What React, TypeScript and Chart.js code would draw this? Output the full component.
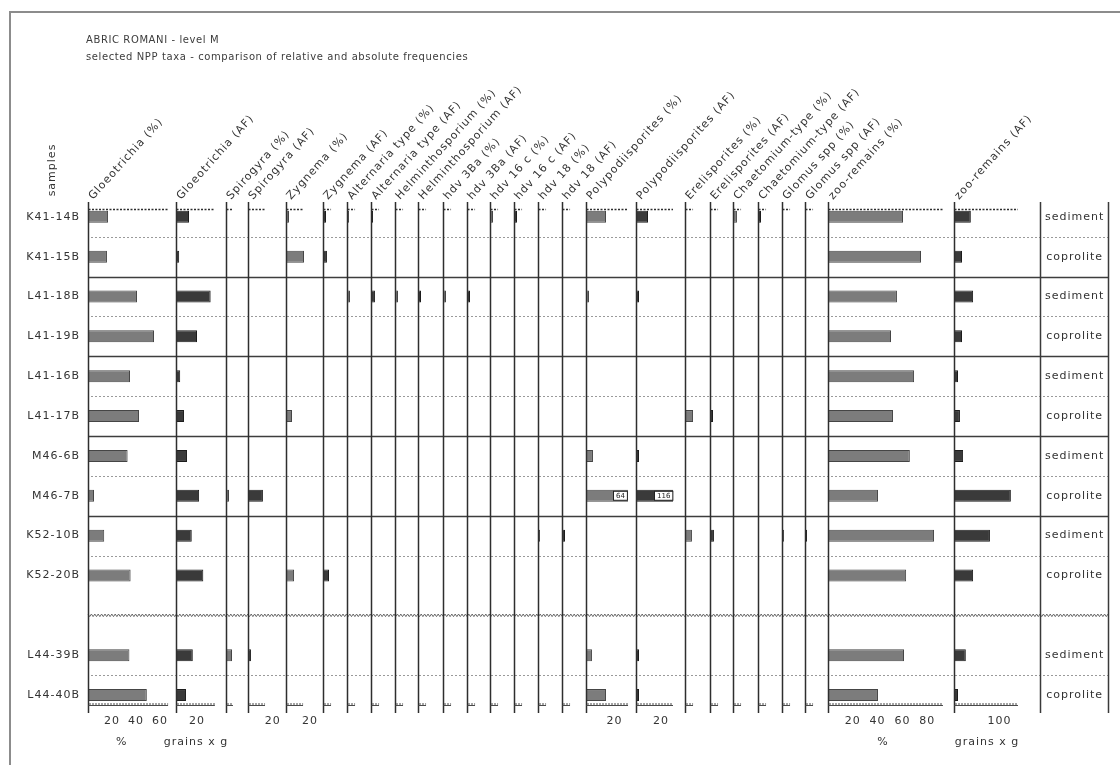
import { useEffect, useRef } from 'react';
import { Chart, registerables } from 'chart.js';

Chart.register(...registerables);

// Samples from top to bottom; the empty entry is the spacer row before L44.
const samples = ['K41-14B', 'K41-15B', 'L41-18B', 'L41-19B', 'L41-16B', 'L41-17B', 'M46-6B', 'M46-7B', 'K52-10B', 'K52-20B', '', 'L44-39B', 'L44-40B'];
const sampleTypes = ['sediment', 'coprolite', 'sediment', 'coprolite', 'sediment', 'coprolite', 'sediment', 'coprolite', 'sediment', 'coprolite', '', 'sediment', 'coprolite'];

// Relative (%) and absolute (AF, grains x g) frequencies per sample.
const gloeotrichiaPct = [16.7, 15.8, 40.8, 55, 35, 42.5, 33, 5, 13.5, 35.5, null, 34.5, 49];
const gloeotrichiaAF = [12.4, 3, 33, 20, 4, 7.6, 10.5, 22, 15, 26, null, 16, 9.5];
const spirogyraPct = [0, 0, 0, 0, 0, 0, 0, 2.5, 0, 0, null, 5, 0];
const spirogyraAF = [0, 0, 0, 0, 0, 0, 0, 12.1, 0, 0, null, 2.4, 0];
const zygnemaPct = [2.5, 15, 0, 0, 0, 5, 0, 0, 0, 6.7, null, 0, 0];
const zygnemaAF = [2.5, 3.3, 0, 0, 0, 0, 0, 0, 0, 5, null, 0, 0];
const alternariaPct = [1.7, 0, 2.5, 0, 0, 0, 0, 0, 0, 0, null, 0, 0];
const alternariaAF = [1.7, 0, 3.3, 0, 0, 0, 0, 0, 0, 0, null, 0, 0];
const helminthosporiumPct = [0, 0, 2.5, 0, 0, 0, 0, 0, 0, 0, null, 0, 0];
const helminthosporiumAF = [0, 0, 2.5, 0, 0, 0, 0, 0, 0, 0, null, 0, 0];
const hdv3BaPct = [0, 0, 2.5, 0, 0, 0, 0, 0, 0, 0, null, 0, 0];
const hdv3BaAF = [0, 0, 2.5, 0, 0, 0, 0, 0, 0, 0, null, 0, 0];
const hdv16cPct = [2.5, 0, 0, 0, 0, 0, 0, 0, 0, 0, null, 0, 0];
const hdv16cAF = [2.5, 0, 0, 0, 0, 0, 0, 0, 0, 0, null, 0, 0];
const hdv18Pct = [0, 0, 0, 0, 0, 0, 0, 0, 1.7, 0, null, 0, 0];
const hdv18AF = [0, 0, 0, 0, 0, 0, 0, 0, 2.5, 0, null, 0, 0];
const polypodiisporitesPct = [14.1, 0, 2.1, 0, 0, 0, 4.9, 64, 0, 0, null, 4.2, 14.1];
const polypodiisporitesAF = [9.6, 0, 2.4, 0, 0, 0, 2.4, 116, 0, 0, null, 2.4, 2.4];
const erelisporitesPct = [0, 0, 0, 0, 0, 6.7, 0, 0, 5.8, 0, null, 0, 0];
const erelisporitesAF = [0, 0, 0, 0, 0, 2.5, 0, 0, 3.3, 0, null, 0, 0];
const chaetomiumPct = [3.3, 0, 0, 0, 0, 0, 0, 0, 0, 0, null, 0, 0];
const chaetomiumAF = [2.5, 0, 0, 0, 0, 0, 0, 0, 0, 0, null, 0, 0];
const glomusPct = [0, 0, 0, 0, 0, 0, 0, 0, 1.7, 0, null, 0, 0];
const glomusAF = [0, 0, 0, 0, 0, 0, 0, 0, 1.7, 0, null, 0, 0];
const zooRemainsPct = [60.5, 75, 55.6, 50.8, 69.4, 52.4, 66, 40.3, 85.5, 63, null, 61.3, 40.3];
const zooRemainsAF = [37, 17.6, 42, 17.6, 8.8, 13, 20, 125, 79, 42, null, 26, 8.8];

const FONT = '"DejaVu Sans", sans-serif';
const INK = '#333';
const PCT_FILL = '#7c7c7c';
const PCT_EDGE = '#454545';
const AF_FILL = '#3a3a3a';
const AF_EDGE = '#1c1c1c';

const ROW_MIN = -0.196;
const ROW_MAX = 12.25;

type Panel = {
  label: string;
  values: (number | null)[];
  kind: 'pct' | 'af';
  weight: number; // share of the plot width
  max: number; // axis maximum
  axisMax: number; // where the drawn axis line stops
  ticks: number[];
};

const narrow = (label: string, values: (number | null)[], kind: 'pct' | 'af', weight: number): Panel => ({
  label, values, kind, weight, max: weight / 1.2, axisMax: 6.7, ticks: [],
});

const panels: Panel[] = [
  { label: 'Gloeotrichia (%)', values: gloeotrichiaPct, kind: 'pct', weight: 88, max: 73.3, axisMax: 66.7, ticks: [20, 40, 60] },
  { label: 'Gloeotrichia (AF)', values: gloeotrichiaAF, kind: 'af', weight: 50, max: 47.6, axisMax: 37, ticks: [20] },
  { label: 'Spirogyra (%)', values: spirogyraPct, kind: 'pct', weight: 22, max: 18.3, axisMax: 5.8, ticks: [] },
  { label: 'Spirogyra (AF)', values: spirogyraAF, kind: 'af', weight: 38, max: 30.8, axisMax: 13.8, ticks: [20] },
  { label: 'Zygnema (%)', values: zygnemaPct, kind: 'pct', weight: 37, max: 30.8, axisMax: 14.2, ticks: [20] },
  narrow('Zygnema (AF)', zygnemaAF, 'af', 24),
  narrow('Alternaria type (%)', alternariaPct, 'pct', 24),
  narrow('Alternaria type (AF)', alternariaAF, 'af', 24),
  narrow('Helminthosporium (%)', helminthosporiumPct, 'pct', 23),
  narrow('Helminthosporium (AF)', helminthosporiumAF, 'af', 25),
  narrow('hdv 3Ba (%)', hdv3BaPct, 'pct', 24),
  narrow('hdv 3Ba (AF)', hdv3BaAF, 'af', 23),
  narrow('hdv 16 c (%)', hdv16cPct, 'pct', 24),
  narrow('hdv 16 c (AF)', hdv16cAF, 'af', 24),
  narrow('hdv 18 (%)', hdv18Pct, 'pct', 24),
  narrow('hdv 18 (AF)', hdv18AF, 'af', 24),
  { label: 'Polypodiisporites (%)', values: polypodiisporitesPct, kind: 'pct', weight: 50, max: 35.2, axisMax: 29.6, ticks: [20] },
  { label: 'Polypodiisporites (AF)', values: polypodiisporitesAF, kind: 'af', weight: 49, max: 39.2, axisMax: 29.6, ticks: [20] },
  narrow('Erelisporites (%)', erelisporitesPct, 'pct', 25),
  narrow('Erelisporites (AF)', erelisporitesAF, 'af', 23),
  narrow('Chaetomium-type (%)', chaetomiumPct, 'pct', 25),
  narrow('Chaetomium-type (AF)', chaetomiumAF, 'af', 24),
  narrow('Glomus spp (%)', glomusPct, 'pct', 23),
  narrow('Glomus spp (AF)', glomusAF, 'af', 23),
  { label: 'zoo-remains (%)', values: zooRemainsPct, kind: 'pct', weight: 126, max: 101.6, axisMax: 92.7, ticks: [20, 40, 60, 80] },
  { label: 'zoo-remains (AF)', values: zooRemainsAF, kind: 'af', weight: 86, max: 189, axisMax: 140.6, ticks: [100] },
];

// Unit captions under the axes: panel index and the axis value they sit under.
const unitLabels = [
  { panel: 0, at: 28, text: '%' },
  { panel: 1, at: 19, text: 'grains x g' },
  { panel: 24, at: 44.4, text: '%' },
  { panel: 25, at: 72.5, text: 'grains x g' },
];

const setSpacing = (ctx: CanvasRenderingContext2D, px: number) => {
  (ctx as any).letterSpacing = `${px}px`;
};

const overflows = (p: Panel) => p.values.some((v) => v != null && v > p.max);

const diagramPlugin = {
  id: 'nppDiagram',
  beforeDraw(chart: any) {
    const { ctx } = chart;
    ctx.save();
    // page frame
    ctx.strokeStyle = '#8c8c8c';
    ctx.lineWidth = 2;
    ctx.beginPath();
    ctx.moveTo(10, chart.height);
    ctx.lineTo(10, 12);
    ctx.lineTo(chart.width, 12);
    ctx.stroke();

    // title block
    ctx.fillStyle = '#3c3c3c';
    ctx.font = `10px ${FONT}`;
    setSpacing(ctx, 0.6);
    ctx.textBaseline = 'middle';
    ctx.textAlign = 'left';
    ctx.fillText('ABRIC ROMANI - level M', 86, 40);
    ctx.fillText('selected NPP taxa - comparison of relative and absolute frequencies', 86, 57);

    // y axis caption
    ctx.font = `11px ${FONT}`;
    setSpacing(ctx, 1);
    ctx.fillStyle = INK;
    ctx.translate(52, 170);
    ctx.rotate(-Math.PI / 2);
    ctx.textAlign = 'center';
    ctx.fillText('samples', 0, 0);
    ctx.restore();
    setSpacing(ctx, 1);
  },
  beforeDatasetsDraw(chart: any) {
    const { ctx, chartArea } = chart;
    const ys = chart.scales.y;
    const right = chart.scales.y2.right;
    ctx.save();
    // row separators: solid between sample pairs, dotted inside a pair
    for (let i = 0; i < samples.length - 1; i++) {
      const a = sampleTypes[i];
      const b = sampleTypes[i + 1];
      if (!a || !b) continue;
      const py = Math.round(ys.getPixelForValue(i + 0.5)) + 0.5;
      ctx.beginPath();
      if (a === 'coprolite') {
        ctx.setLineDash([]);
        ctx.strokeStyle = '#3d3d3d';
        ctx.lineWidth = 1.4;
        ctx.moveTo(chartArea.left, py);
      } else {
        ctx.setLineDash([2, 2]);
        ctx.strokeStyle = '#9a9a9a';
        ctx.lineWidth = 1;
        ctx.moveTo(chartArea.left + 3, py);
      }
      ctx.lineTo(right, py);
      ctx.stroke();
    }
    // spacer row: zig-zag break line
    ctx.setLineDash([]);
    samples.forEach((s, i) => {
      if (s) return;
      const py = ys.getPixelForValue(i);
      ctx.beginPath();
      ctx.strokeStyle = '#666';
      ctx.lineWidth = 1;
      let k = 0;
      for (let x = chartArea.left; x <= right; x += 1.7, k++) {
        const yy = py + (k % 2 ? 1.3 : -1.3);
        if (k === 0) ctx.moveTo(x, yy);
        else ctx.lineTo(x, yy);
      }
      ctx.stroke();
    });
    ctx.restore();
  },
  afterDatasetsDraw(chart: any) {
    const { ctx, chartArea } = chart;
    const ys = chart.scales.y;
    ctx.save();
    panels.forEach((p, i) => {
      const sc = chart.scales['x' + i];
      const x0 = Math.round(sc.getPixelForValue(0)) + 0.5;
      const xe = sc.getPixelForValue(p.axisMax);
      // zero line of the panel
      ctx.setLineDash([]);
      ctx.strokeStyle = '#2e2e2e';
      ctx.lineWidth = 1.5;
      ctx.beginPath();
      ctx.moveTo(x0, chartArea.top - 7);
      ctx.lineTo(x0, chartArea.bottom + 8);
      ctx.stroke();
      // top axis
      ctx.setLineDash([2, 1.5]);
      ctx.lineWidth = 1.5;
      ctx.beginPath();
      ctx.moveTo(x0, chartArea.top + 0.5);
      ctx.lineTo(xe, chartArea.top + 0.5);
      ctx.stroke();
      // bottom axis with minor ticks
      ctx.setLineDash([]);
      ctx.lineWidth = 1;
      ctx.strokeStyle = '#4a4a4a';
      ctx.beginPath();
      ctx.moveTo(x0, chartArea.bottom + 0.5);
      ctx.lineTo(xe, chartArea.bottom + 0.5);
      ctx.stroke();
      ctx.setLineDash([1, 2]);
      ctx.lineWidth = 2;
      ctx.beginPath();
      ctx.moveTo(x0 + 1, chartArea.bottom - 1);
      ctx.lineTo(xe, chartArea.bottom - 1);
      ctx.stroke();

      // values beyond the axis: bar is cut at the axis end and labelled
      if (overflows(p)) {
        ctx.setLineDash([]);
        setSpacing(ctx, 0);
        ctx.font = `7px ${FONT}`;
        ctx.textAlign = 'center';
        ctx.textBaseline = 'middle';
        p.values.forEach((v, r) => {
          if (v == null || v <= p.max) return;
          const t = String(v);
          const w = ctx.measureText(t).width + 5;
          const yc = ys.getPixelForValue(r);
          const bx = Math.round(xe - w - 1) + 0.5;
          ctx.fillStyle = '#fff';
          ctx.fillRect(bx, yc - 4.5, w, 9);
          ctx.strokeStyle = '#222';
          ctx.lineWidth = 1;
          ctx.strokeRect(bx, yc - 4.5, w, 9);
          ctx.fillStyle = '#222';
          ctx.fillText(t, bx + w / 2, yc + 0.5);
        });
        setSpacing(ctx, 1);
      }
    });
    // sample type column
    const y2 = chart.scales.y2;
    ctx.setLineDash([]);
    ctx.strokeStyle = '#3a3a3a';
    ctx.lineWidth = 1.5;
    [chartArea.right + 0.5, y2.right - 0.5].forEach((x) => {
      ctx.beginPath();
      ctx.moveTo(x, chartArea.top - 7);
      ctx.lineTo(x, chartArea.bottom + 8);
      ctx.stroke();
    });
    ctx.restore();
  },
  afterDraw(chart: any) {
    const { ctx, chartArea } = chart;
    ctx.save();
    ctx.font = `11px ${FONT}`;
    setSpacing(ctx, 1);
    ctx.fillStyle = INK;
    ctx.textAlign = 'left';
    ctx.textBaseline = 'alphabetic';
    const angle = (-48 * Math.PI) / 180;
    panels.forEach((p, i) => {
      const sc = chart.scales['x' + i];
      ctx.save();
      ctx.translate(sc.getPixelForValue(0) + 5, chartArea.top - 9);
      ctx.rotate(angle);
      ctx.fillText(p.label, 0, 0);
      ctx.restore();
    });
    ctx.textAlign = 'center';
    ctx.textBaseline = 'middle';
    unitLabels.forEach((u) => {
      const sc = chart.scales['x' + u.panel];
      ctx.fillText(u.text, sc.getPixelForValue(u.at), chartArea.bottom + 37);
    });
    ctx.restore();
  },
};

function buildConfig(): any {
  const tickFont = { family: FONT, size: 11 };
  const rowTicks = (s: any) => {
    s.ticks = samples.map((_, i) => ({ value: i }));
  };
  const scales: Record<string, any> = {
    y: {
      type: 'linear',
      position: 'left',
      reverse: true,
      min: ROW_MIN,
      max: ROW_MAX,
      offset: false,
      grid: { display: false, drawTicks: false },
      border: { display: false },
      afterBuildTicks: rowTicks,
      afterFit: (s: any) => {
        s.width = 88;
        s.paddingTop = 0;
        s.paddingBottom = 0;
      },
      ticks: {
        autoSkip: false,
        padding: 8,
        color: INK,
        font: tickFont,
        callback: (v: number) => samples[v] ?? '',
      },
    },
    y2: {
      type: 'linear',
      position: 'right',
      reverse: true,
      min: ROW_MIN,
      max: ROW_MAX,
      offset: false,
      grid: { display: false, drawTicks: false },
      border: { display: false },
      afterBuildTicks: rowTicks,
      afterFit: (s: any) => {
        s.width = 69;
        s.paddingTop = 0;
        s.paddingBottom = 0;
      },
      ticks: {
        autoSkip: false,
        padding: 9,
        crossAlign: 'center',
        color: INK,
        font: tickFont,
        callback: (v: number) => sampleTypes[v] ?? '',
      },
    },
  };

  panels.forEach((p, i) => {
    scales['x' + i] = {
      type: 'linear',
      axis: 'x',
      position: 'bottom',
      stack: 'taxa',
      stackWeight: p.weight,
      min: 0,
      max: p.max,
      offset: false,
      grid: { display: false, drawTicks: false },
      border: { display: false },
      afterBuildTicks: (s: any) => {
        s.ticks = p.ticks.map((v) => ({ value: v }));
      },
      afterFit: (s: any) => {
        s.height = 60;
        s.paddingLeft = 0;
        s.paddingRight = 0;
      },
      ticks: {
        display: p.ticks.length > 0,
        autoSkip: false,
        maxRotation: 0,
        minRotation: 0,
        padding: 10,
        color: INK,
        font: tickFont,
      },
    };
  });

  const datasets = panels.map((p, i) => ({
    label: p.label,
    xAxisID: 'x' + i,
    yAxisID: 'y',
    data: p.values
      .map((v, r) => ({ x: v, y: r }))
      .filter((d) => d.x != null && d.x > 0),
    backgroundColor: p.kind === 'pct' ? PCT_FILL : AF_FILL,
    borderColor: p.kind === 'pct' ? PCT_EDGE : AF_EDGE,
    borderWidth: 1,
    grouped: false,
    maxBarThickness: 12,
    clip: overflows(p)
      ? { left: false, top: false, bottom: false, right: ((p.axisMax - p.max) * p.weight) / p.max }
      : false,
  }));

  return {
    type: 'bar',
    data: { datasets },
    options: {
      indexAxis: 'y',
      responsive: false,
      animation: false,
      devicePixelRatio: 1,
      events: [],
      layout: { padding: { top: 209, right: 11, bottom: 0, left: 0 } },
      plugins: {
        legend: { display: false },
        tooltip: { enabled: false },
        title: { display: false },
      },
      scales,
    },
    plugins: [diagramPlugin],
  };
}

export default function App() {
  const canvasRef = useRef<HTMLCanvasElement>(null);

  useEffect(() => {
    if (!canvasRef.current) return;
    const chart = new Chart(canvasRef.current, buildConfig());
    return () => chart.destroy();
  }, []);

  return (
    <div style={{ position: 'fixed', left: 0, top: 0, width: 1120, height: 765, background: '#fff' }}>
      <canvas ref={canvasRef} width={1120} height={765} style={{ display: 'block', width: 1120, height: 765 }} />
    </div>
  );
}
